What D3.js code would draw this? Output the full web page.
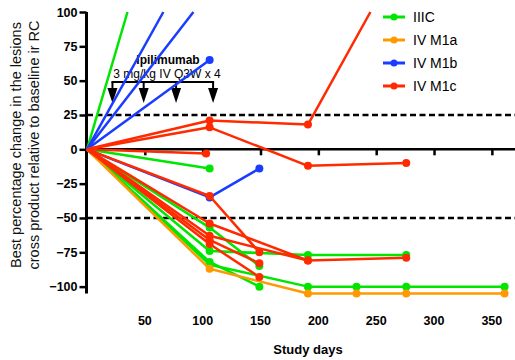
<!DOCTYPE html>
<html>
<head>
<meta charset="utf-8">
<script src="https://cdn.jsdelivr.net/npm/d3@7"></script>
<style>
  body { margin: 0; background: #fff; }
  text { font-family: Arial, "Liberation Sans", sans-serif; }
</style>
</head>
<body>
<script>
// stages and their colours
const stages = ['IIIC', 'IV M1a', 'IV M1b', 'IV M1c'];
const stageColors = ['#00e600', '#ff9900', '#1a3cff', '#ff2a00'];

// patients per stage: [study day, % change]
const iiic = [
    [[0, 0], [35, 100]],
    [[0, 0], [106, -14]],
    [[0, 0], [106, -57], [149, -85]],
    [[0, 0], [106, -74], [191, -77], [276, -77]],
    [[0, 0], [106, -82], [149, -100]],
    [[0, 0], [106, -84], [191, -100], [233, -100], [276, -100], [361, -100]]
];
const ivM1a = [
    [[0, 0], [106, -87], [191, -105], [233, -105], [276, -105], [361, -105]]
];
const ivM1b = [
    [[0, 0], [66, 100]],
    [[0, 0], [92, 100]],
    [[0, 0], [106, 65]],
    [[0, 0], [106, -35], [149, -14]]
];
const ivM1c = [
    [[0, 0], [106, 21], [191, 18], [245, 100]],
    [[0, 0], [106, 16], [191, -12], [276, -10]],
    [[0, 0], [103, -3]],
    [[0, 0], [106, -34], [149, -75]],
    [[0, 0], [106, -54], [191, -81], [276, -79]],
    [[0, 0], [106, -63], [191, -81]],
    [[0, 0], [106, -66], [149, -83]],
    [[0, 0], [106, -69], [149, -93]]
];
const patients = [iiic, ivM1a, ivM1b, ivM1c];

const yTicks = [100, 75, 50, 25, 0, -25, -50, -75, -100];
const xTicks = [50, 100, 150, 200, 250, 300, 350];
const refLines = [25, -50];
const doseDays = [22, 49, 77, 109];

const width = 515, height = 360;
const svg = d3.select('body').append('svg')
    .attr('width', width)
    .attr('height', height);

const x = d3.scaleLinear().domain([0, 370]).range([87, 515]);
const y = d3.scaleLinear().domain([-105, 100]).range([293.5, 12]);

// y axis
const yAxis = svg.append('g')
    .attr('transform', 'translate(86.5,0)')
    .call(d3.axisLeft(y).tickValues(yTicks).tickSize(7).tickPadding(2).tickFormat(d3.format('d')));
yAxis.select('.domain').attr('stroke', '#000').attr('stroke-width', 3)
    .attr('d', `M0,${y(100)}V${y(-105)}`);
yAxis.selectAll('.tick line').attr('stroke-width', 2.5);
yAxis.selectAll('.tick text')
    .style('font-size', '12.5px').style('font-weight', 'bold').attr('fill', '#000');

// x axis sits on zero, labels are at the bottom
const xAxis = svg.append('g')
    .attr('transform', `translate(0,${y(0)})`)
    .call(d3.axisBottom(x).tickValues(xTicks).tickSize(6).tickFormat(''));
xAxis.select('.domain').attr('stroke-width', 2.5).attr('d', `M${x(0)},0H${width}`);
xAxis.selectAll('.tick line').attr('stroke-width', 2.5);

svg.append('g').selectAll('text')
    .data(xTicks)
    .join('text')
    .attr('x', d => x(d))
    .attr('y', 325)
    .attr('text-anchor', 'middle')
    .style('font-size', '12.5px')
    .style('font-weight', 'bold')
    .text(d => d);

svg.append('text')
    .attr('x', 308).attr('y', 354)
    .attr('text-anchor', 'middle')
    .style('font-size', '13px').style('font-weight', 'bold')
    .text('Study days');

const yTitle = svg.append('text')
    .attr('transform', 'translate(21,145) rotate(-90)')
    .attr('text-anchor', 'middle')
    .style('font-size', '14.5px').attr('fill', '#111');
yTitle.append('tspan').attr('x', 0).attr('dy', 0).text('Best percentage change in the lesions');
yTitle.append('tspan').attr('x', 0).attr('dy', 18).text('cross product relative to baseline ir RC');

// reference lines
svg.append('g').selectAll('line')
    .data(refLines)
    .join('line')
    .attr('x1', x(0)).attr('x2', width)
    .attr('y1', d => y(d)).attr('y2', d => y(d))
    .attr('stroke', '#000')
    .attr('stroke-width', 2.5)
    .attr('stroke-dasharray', '6,3.5');

// dosing annotation
svg.append('text')
    .attr('x', 168).attr('y', 64)
    .attr('text-anchor', 'middle')
    .style('font-size', '12px').style('font-weight', 'bold')
    .text('Ipilimumab');
svg.append('text')
    .attr('x', 167).attr('y', 78)
    .attr('text-anchor', 'middle')
    .style('font-size', '12px')
    .text('3 mg/kg IV Q3W x 4');

svg.append('line')
    .attr('x1', x(doseDays[0]) - 1).attr('x2', x(doseDays[3]) + 1)
    .attr('y1', 82).attr('y2', 82)
    .attr('stroke', '#000').attr('stroke-width', 2);
const arrows = svg.append('g').selectAll('g')
    .data(doseDays)
    .join('g')
    .attr('transform', d => `translate(${x(d)},0)`);
arrows.append('line')
    .attr('y1', 82).attr('y2', 89)
    .attr('stroke', '#000').attr('stroke-width', 2);
arrows.append('path')
    .attr('d', 'M-5,88L5,88L0,103Z')
    .attr('fill', '#000');

// patient lines
const line = d3.line().x(d => x(d[0])).y(d => y(d[1]));
patients.forEach((group, i) => {
    const g = svg.append('g');
    g.selectAll('path')
        .data(group)
        .join('path')
        .attr('d', line)
        .attr('fill', 'none')
        .attr('stroke', stageColors[i])
        .attr('stroke-width', 2.5)
        .attr('stroke-linejoin', 'round');
    g.selectAll('circle')
        .data(group.flatMap(p => p.slice(1).filter(d => d[1] < 100)))
        .join('circle')
        .attr('cx', d => x(d[0]))
        .attr('cy', d => y(d[1]))
        .attr('r', 4)
        .attr('fill', stageColors[i]);
});

// legend
const legend = svg.append('g').selectAll('g')
    .data(stages)
    .join('g')
    .attr('transform', (d, i) => `translate(383,${17 + i * 23})`);
legend.append('line')
    .attr('x1', 0).attr('x2', 22)
    .attr('stroke', (d, i) => stageColors[i]).attr('stroke-width', 3);
legend.append('circle')
    .attr('cx', 11).attr('r', 3.5)
    .attr('fill', (d, i) => stageColors[i]);
legend.append('text')
    .attr('x', 30).attr('y', 5)
    .style('font-size', '14px')
    .text(d => d);
</script>
</body>
</html>
